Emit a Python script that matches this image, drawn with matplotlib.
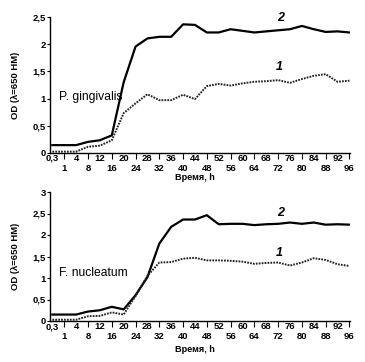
import matplotlib
matplotlib.use("Agg")
import matplotlib.pyplot as plt

plt.rcParams['font.family'] = ['Liberation Sans', 'DejaVu Sans']

time_labels = ["0,3", "1", "4", "8", "12", "16", "20", "24", "28", "32", "36", "40", "44",
               "48", "52", "56", "60", "64", "68", "72", "76", "80", "84", "88", "92", "96"]

pg_series2 = [0.14, 0.14, 0.14, 0.20, 0.23, 0.32, 1.30, 1.96, 2.11, 2.14, 2.14, 2.37, 2.36,
              2.22, 2.22, 2.28, 2.25, 2.22, 2.24, 2.26, 2.28, 2.34, 2.28, 2.23, 2.24, 2.22]
pg_series1 = [0.02, 0.02, 0.02, 0.11, 0.13, 0.23, 0.73, 0.91, 1.08, 0.97, 0.97, 1.07, 0.99,
              1.23, 1.27, 1.24, 1.28, 1.31, 1.32, 1.34, 1.29, 1.36, 1.42, 1.45, 1.31, 1.33]
fn_series2 = [0.15, 0.15, 0.15, 0.22, 0.25, 0.33, 0.27, 0.60, 1.02, 1.80, 2.19, 2.36, 2.36,
              2.46, 2.25, 2.26, 2.26, 2.23, 2.25, 2.26, 2.29, 2.26, 2.29, 2.24, 2.25, 2.24]
fn_series1 = [0.03, 0.03, 0.03, 0.11, 0.12, 0.20, 0.15, 0.58, 1.05, 1.36, 1.37, 1.45, 1.47,
              1.41, 1.41, 1.40, 1.38, 1.33, 1.35, 1.36, 1.29, 1.36, 1.46, 1.42, 1.32, 1.28]

pg_yticks = [0, 0.5, 1, 1.5, 2, 2.5]
pg_yticklabels = ["0", "0,5", "1", "1,5", "2", "2,5"]
fn_yticks = [0, 0.5, 1, 1.5, 2, 2.5, 3]
fn_yticklabels = ["0", "0,5", "1", "1,5", "2", "2,5", "3"]

W, H = 365, 362
fig = plt.figure(figsize=(W / 100, H / 100), dpi=100)
fig.patch.set_facecolor('white')

TICK_FS = 6.8


def px_axes(left, top, right, bottom):
    return fig.add_axes([left / W, 1 - bottom / H, (right - left) / W, (bottom - top) / H])


def style(ax, y2, y1, yticks, yticklabels, name, ymax, lab2, lab1, name_y):
    x = list(range(len(time_labels)))
    ax.plot(x, y2, color='black', lw=1.6, solid_joinstyle='round')
    ax.plot(x, y1, color='#222222', lw=1.4, linestyle=(0, (0.9, 0.6)))
    ax.set_xlim(-0.2, 25.05)
    ax.set_ylim(0, ymax)
    for s in ['top', 'right']:
        ax.spines[s].set_visible(False)
    ax.spines['left'].set_linewidth(1.0)
    ax.spines['bottom'].set_linewidth(1.0)
    ax.set_yticks(yticks)
    ax.set_yticklabels(yticklabels, fontsize=TICK_FS, fontweight='bold')
    ax.tick_params(axis='y', length=2.5, width=0.8, pad=0.6)
    odd = [i for i in x if i % 2 == 1]
    even = [i for i in x if i % 2 == 0]
    ax.set_xticks(odd)
    ax.set_xticklabels([time_labels[i] for i in odd], fontsize=TICK_FS, fontweight='bold')
    ax.set_xticks(even, minor=True)
    ax.set_xticklabels([time_labels[i] for i in even], minor=True, fontsize=TICK_FS, fontweight='bold')
    ax.tick_params(axis='x', which='major', length=4.0, width=0.8, pad=4.0)
    ax.tick_params(axis='x', which='minor', length=0, pad=0.8)
    ax.set_ylabel("OD (λ=650 HM)", fontsize=6.8, fontweight='bold')
    ax.yaxis.set_label_coords(-0.1, 0.5)
    ax.text(0.03, name_y, name, transform=ax.transAxes, fontsize=8.7, va='center', ha='left')
    ax.text(19.2, lab2, "2", fontsize=9, fontweight='bold', style='italic', ha='center', va='center')
    ax.text(19.1, lab1, "1", fontsize=9, fontweight='bold', style='italic', ha='center', va='center')


ax1 = px_axes(50, 17.3, 350, 152.7)
style(ax1, pg_series2, pg_series1, pg_yticks, pg_yticklabels, "P. gingivalis", 2.5,
      2.48, 1.58, 0.41)
fig.text(195 / W, 1 - 178 / H, "Время, h", fontsize=6.6, fontweight='bold', ha='center', va='center')

ax2 = px_axes(50, 192, 350, 321)
style(ax2, fn_series2, fn_series1, fn_yticks, fn_yticklabels, "F. nucleatum", 3.0,
      2.5, 1.58, 0.37)
fig.text(195 / W, 1 - 350 / H, "Время, h", fontsize=6.6, fontweight='bold', ha='center', va='center')

fig.savefig("out.png", dpi=100, facecolor='white')
